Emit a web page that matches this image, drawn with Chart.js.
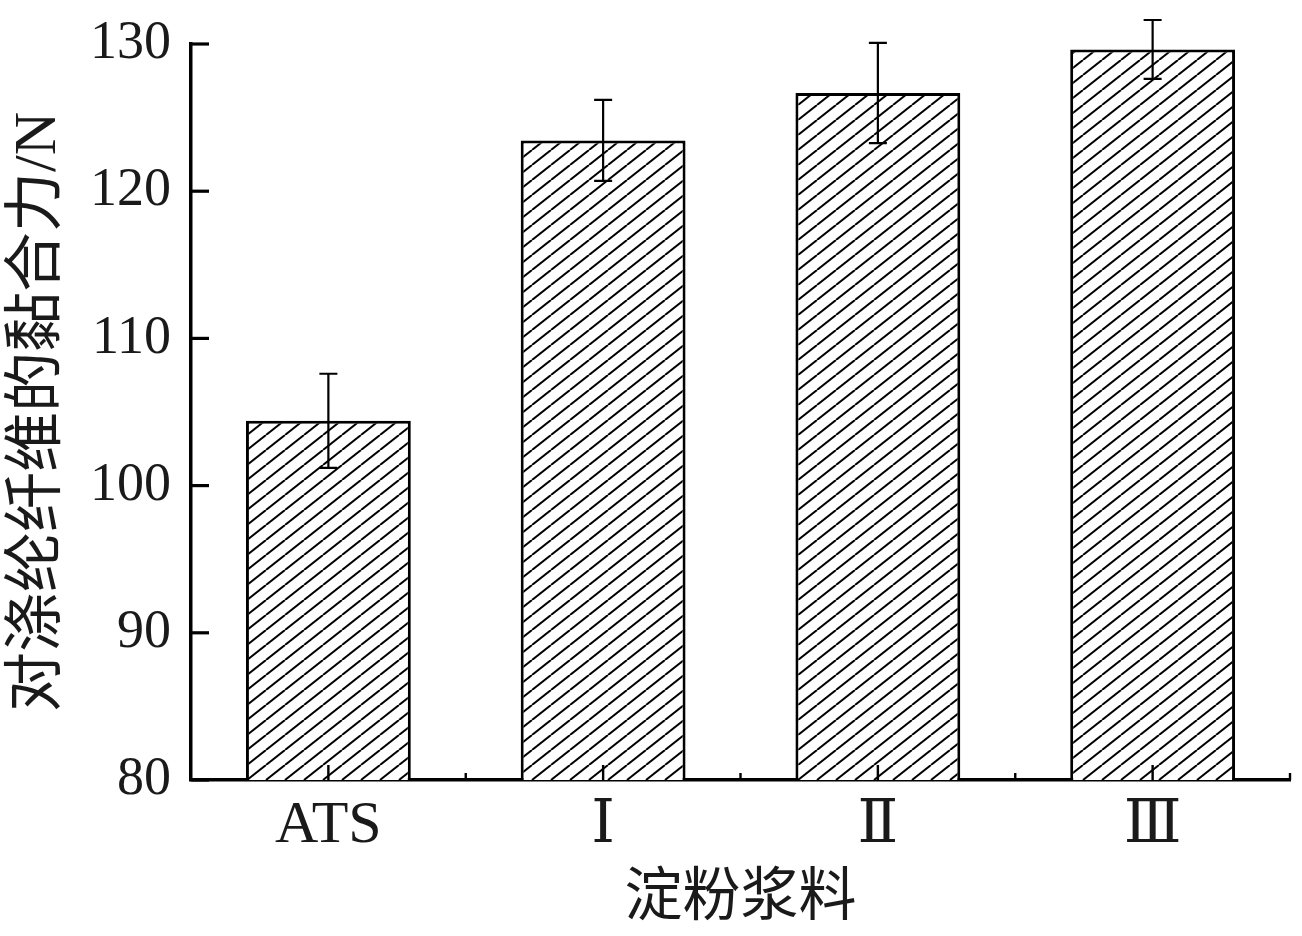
<!DOCTYPE html>
<html>
<head>
<meta charset="utf-8">
<script src="https://cdn.jsdelivr.net/npm/chart.js@4.4.1/dist/chart.umd.min.js"></script>
<style>
  html, body { margin: 0; padding: 0; background: #fff; }
  #wrap { width: 1302px; height: 936px; }
</style>
</head>
<body>
<div id="wrap"><canvas id="forceChart" width="1302" height="936"></canvas></div>
<script>
// data
const slurries = ['ATS', 'Ⅰ', 'Ⅱ', 'Ⅲ'];
const force = [104.4, 123.45, 126.67, 129.63];
const forceErr = [3.2, 2.75, 3.4, 2.0];
const yTicks = [80, 90, 100, 110, 120, 130];

const ink = '#1a1a1a';
const serif = "'Liberation Serif', 'DejaVu Serif', 'Noto Sans CJK SC', serif";

// diagonal hatch fill for the bars
function makeHatch() {
    const w = 19, h = 15;
    const c = document.createElement('canvas');
    c.width = w;
    c.height = h;
    const g = c.getContext('2d');
    g.fillStyle = '#fff';
    g.fillRect(0, 0, w, h);
    g.strokeStyle = '#000';
    g.lineWidth = 2;
    for (let k = -1; k <= 1; k++) {
        g.beginPath();
        g.moveTo(k * w, h);
        g.lineTo(k * w + w, 0);
        g.stroke();
    }
    return g.createPattern(c, 'repeat');
}

// error bars and inward tick marks
const decorations = {
    id: 'decorations',
    afterDatasetsDraw(chart) {
        const { ctx, scales: { x, y } } = chart;
        ctx.save();
        ctx.strokeStyle = '#000';

        // error bars
        chart.getDatasetMeta(0).data.forEach((bar, i) => {
            const cx = bar.x;
            const top = y.getPixelForValue(force[i] + forceErr[i]);
            const bot = y.getPixelForValue(force[i] - forceErr[i]);
            ctx.lineWidth = 2.2;
            ctx.beginPath();
            ctx.moveTo(cx, top);
            ctx.lineTo(cx, bot);
            ctx.moveTo(cx - 9, top);
            ctx.lineTo(cx + 9, top);
            ctx.moveTo(cx - 9, bot);
            ctx.lineTo(cx + 9, bot);
            ctx.stroke();
        });

        // y ticks pointing inward
        const left = chart.chartArea.left;
        ctx.lineWidth = 3.2;
        yTicks.forEach(v => {
            const py = y.getPixelForValue(v);
            ctx.beginPath();
            ctx.moveTo(left, py);
            ctx.lineTo(left + 18, py);
            ctx.stroke();
        });

        // x ticks: long at category centres, short at boundaries
        const bottom = chart.chartArea.bottom;
        const step = x.width / slurries.length;
        ctx.lineWidth = 2.4;
        slurries.forEach((s, i) => {
            const px = x.getPixelForValue(i);
            ctx.beginPath();
            ctx.moveTo(px, bottom);
            ctx.lineTo(px, bottom - 15);
            ctx.moveTo(px + step / 2, bottom);
            ctx.lineTo(px + step / 2, bottom - 7);
            ctx.stroke();
        });
        ctx.restore();
    }
};

function initForceChart() {
    const ctx = document.getElementById('forceChart').getContext('2d');

    new Chart(ctx, {
        type: 'bar',
        data: {
            labels: slurries,
            datasets: [{
                data: force,
                backgroundColor: makeHatch(),
                borderColor: '#000',
                borderWidth: 3,
                borderSkipped: false,
                barPercentage: 0.6,
                categoryPercentage: 1.0
            }]
        },
        options: {
            responsive: false,
            animation: false,
            devicePixelRatio: 1,
            layout: {
                padding: { top: 44, right: 12, left: 0, bottom: 0 }
            },
            plugins: {
                legend: { display: false },
                tooltip: { enabled: false }
            },
            scales: {
                y: {
                    min: 80,
                    max: 130,
                    afterFit: scale => {
                        scale.width = 191;
                        scale.paddingTop = 0;
                        scale.paddingBottom = 0;
                    },
                    afterBuildTicks: scale => {
                        scale.ticks = yTicks.map(v => ({ value: v }));
                    },
                    ticks: {
                        padding: 20,
                        color: ink,
                        font: { family: serif, size: 54 }
                    },
                    grid: { display: false, drawTicks: false },
                    border: { display: true, color: '#000', width: 3.5 },
                    title: {
                        display: true,
                        text: '对涤纶纤维的黏合力/N',
                        color: ink,
                        padding: { top: 3, bottom: 0 },
                        font: { family: serif, size: 60 }
                    }
                },
                x: {
                    afterFit: scale => {
                        scale.height = 156;
                        scale.paddingLeft = 0;
                        scale.paddingRight = 0;
                    },
                    ticks: {
                        padding: 10,
                        color: ink,
                        font: { family: serif, size: 60 }
                    },
                    grid: { display: false, drawTicks: false },
                    border: { display: true, color: '#000', width: 3.5 },
                    title: {
                        display: true,
                        text: '淀粉浆料',
                        color: ink,
                        padding: { top: 0, bottom: 1 },
                        font: { family: serif, size: 58 }
                    }
                }
            }
        },
        plugins: [decorations]
    });
}

document.addEventListener('DOMContentLoaded', function() {
    initForceChart();
});
</script>
</body>
</html>
